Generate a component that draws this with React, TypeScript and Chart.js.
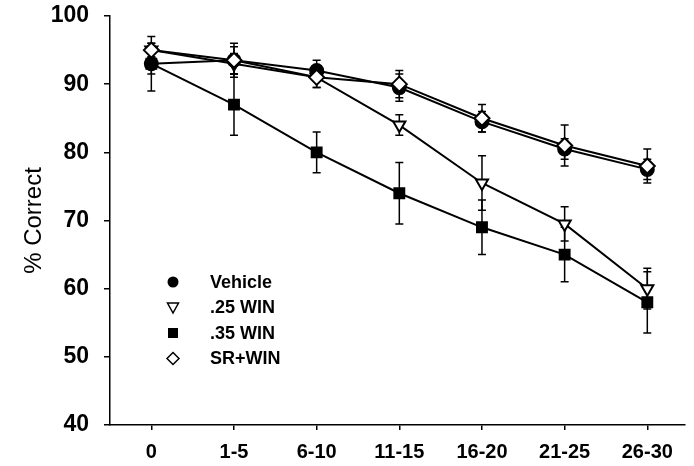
import React, { useEffect, useRef } from "react";
import { Chart, registerables } from "chart.js";

Chart.register(...registerables);

const categories = ["0", "1-5", "6-10", "11-15", "16-20", "21-25", "26-30"];
const vehicle = [93, 93.5, 92, 89.5, 84.5, 80.5, 77.5];
const vehicleErr = [1.5, 2, 1.5, 2, 1.5, 1.5, 1.5];
const win25 = [95, 93, 91, 84, 75.5, 69.5, 60];
const win25Err = [1, 1.5, 1.5, 1.5, 4, 2.5, 3];
const win35 = [93, 87, 80, 74, 69, 65, 58];
const win35Err = [4, 4.5, 3, 4.5, 4, 4, 4.5];
const srwin = [95, 93.5, 91, 90, 85, 81, 78];
const srwinErr = [1, 2.5, 1.5, 2, 2, 3, 2.5];
const yTicks = [40, 50, 60, 70, 80, 90, 100];

const FONT = "'Liberation Sans', Arial, sans-serif";

const errs = [vehicleErr, win25Err, win35Err, srwinErr];

const errorBarPlugin = {
  id: "errorBars",
  beforeDatasetsDraw(chart: any) {
    const ctx = chart.ctx;
    const yScale = chart.scales.y;
    ctx.save();
    ctx.strokeStyle = "#000";
    ctx.lineWidth = 1.5;
    chart.data.datasets.forEach((ds: any, i: number) => {
      const meta = chart.getDatasetMeta(i);
      const e = errs[i];
      meta.data.forEach((pt: any, j: number) => {
        const v = ds.data[j].y;
        const x = pt.x;
        const yTop = yScale.getPixelForValue(v + e[j]);
        const yBot = yScale.getPixelForValue(v - e[j]);
        ctx.beginPath();
        ctx.moveTo(x, yTop);
        ctx.lineTo(x, yBot);
        ctx.moveTo(x - 4, yTop);
        ctx.lineTo(x + 4, yTop);
        ctx.moveTo(x - 4, yBot);
        ctx.lineTo(x + 4, yBot);
        ctx.stroke();
      });
    });
    ctx.restore();
  },
};

const legendItems = [
  { label: "Vehicle", kind: "circle" },
  { label: ".25 WIN", kind: "tri" },
  { label: ".35 WIN", kind: "square" },
  { label: "SR+WIN", kind: "diamond" },
];

const legendPlugin = {
  id: "customLegend",
  afterDraw(chart: any) {
    const ctx = chart.ctx;
    const area = chart.chartArea;
    const x0 = area.left + 63;
    const y0 = area.top + 266;
    ctx.save();
    ctx.fillStyle = "#000";
    ctx.strokeStyle = "#000";
    ctx.lineWidth = 1.5;
    ctx.font = `bold 18px ${FONT}`;
    ctx.textBaseline = "middle";
    legendItems.forEach((it, i) => {
      const y = y0 + i * 25.5;
      const x = x0;
      ctx.beginPath();
      if (it.kind === "circle") {
        ctx.arc(x, y, 5.5, 0, Math.PI * 2);
        ctx.fill();
      } else if (it.kind === "tri") {
        ctx.moveTo(x - 5.5, y - 4.5);
        ctx.lineTo(x + 5.5, y - 4.5);
        ctx.lineTo(x, y + 5.5);
        ctx.closePath();
        ctx.stroke();
      } else if (it.kind === "square") {
        ctx.rect(x - 5, y - 5, 10, 10);
        ctx.fill();
      } else {
        ctx.moveTo(x, y - 6);
        ctx.lineTo(x + 6, y);
        ctx.lineTo(x, y + 6);
        ctx.lineTo(x - 6, y);
        ctx.closePath();
        ctx.stroke();
      }
      ctx.fillText(it.label, x + 37, y + 1);
    });
    ctx.restore();
  },
};

function pts(arr: number[]) {
  return arr.map((v, i) => ({ x: i, y: v }));
}

export default function App() {
  const ref = useRef<HTMLCanvasElement>(null);
  useEffect(() => {
    if (!ref.current) return;
    const chart = new Chart(ref.current, {
      type: "line",
      data: {
        datasets: [
          {
            label: "Vehicle",
            data: pts(vehicle),
            borderColor: "#000",
            backgroundColor: "#000",
            borderWidth: 2,
            pointStyle: "circle",
            pointRadius: 6.5,
            pointBackgroundColor: "#000",
            pointBorderColor: "#000",
            order: 3,
          },
          {
            label: ".25 WIN",
            data: pts(win25),
            borderColor: "#000",
            backgroundColor: "#fff",
            borderWidth: 2,
            pointStyle: "triangle",
            rotation: 180,
            pointRadius: 7,
            pointBorderWidth: 2,
            pointBackgroundColor: "#fff",
            pointBorderColor: "#000",
            order: 2,
          },
          {
            label: ".35 WIN",
            data: pts(win35),
            borderColor: "#000",
            backgroundColor: "#000",
            borderWidth: 2,
            pointStyle: "rect",
            pointRadius: 7,
            pointBackgroundColor: "#000",
            pointBorderColor: "#000",
            order: 1,
          },
          {
            label: "SR+WIN",
            data: pts(srwin),
            borderColor: "#000",
            backgroundColor: "#fff",
            borderWidth: 2,
            pointStyle: "rectRot",
            pointRadius: 7.5,
            pointBorderWidth: 2,
            pointBackgroundColor: "#fff",
            pointBorderColor: "#000",
            order: 0,
          },
        ],
      },
      options: {
        animation: false,
        responsive: false,
        maintainAspectRatio: false,
        layout: { padding: { top: 16, right: 0, left: 0, bottom: 0 } },
        plugins: { legend: { display: false }, tooltip: { enabled: false } },
        scales: {
          x: {
            type: "linear",
            min: -0.5,
            max: 6.45,
            afterBuildTicks: (scale: any) => {
              scale.ticks = categories.map((_, i) => ({ value: i }));
            },
            afterFit: (scale: any) => {
              scale.height = 41;
              scale.paddingLeft = 0;
              scale.paddingRight = 0;
            },
            ticks: {
              autoSkip: false,
              maxRotation: 0,
              padding: 10,
              color: "#000",
              font: { family: FONT, size: 20, weight: "bold" },
              callback: (v: any) => categories[v] ?? "",
            },
            grid: {
              drawOnChartArea: false,
              drawTicks: true,
              tickLength: 5,
              color: "#000",
              lineWidth: 1.5,
            },
            border: { display: true, color: "#000", width: 1.5 },
          },
          y: {
            type: "linear",
            min: 40,
            max: 100,
            afterBuildTicks: (scale: any) => {
              scale.ticks = yTicks.map((v) => ({ value: v }));
            },
            afterFit: (scale: any) => {
              scale.width = 110;
              scale.paddingTop = 0;
              scale.paddingBottom = 0;
            },
            ticks: {
              padding: 15,
              color: "#000",
              font: { family: FONT, size: 23, weight: "bold" },
            },
            title: {
              display: true,
              text: "% Correct",
              color: "#000",
              padding: { top: 20, bottom: 0 },
              font: { family: FONT, size: 24 },
            },
            grid: {
              drawOnChartArea: false,
              drawTicks: true,
              tickLength: 6,
              color: "#000",
              lineWidth: 1.5,
            },
            border: { display: true, color: "#000", width: 1.5 },
          },
        },
      },
      plugins: [errorBarPlugin, legendPlugin],
    });
    return () => chart.destroy();
  }, []);
  return (
    <div style={{ position: "fixed", left: 0, top: 0, width: 694, height: 466, background: "#fff" }}>
      <canvas ref={ref} width={694} height={466} style={{ width: 694, height: 466 }} />
    </div>
  );
}
